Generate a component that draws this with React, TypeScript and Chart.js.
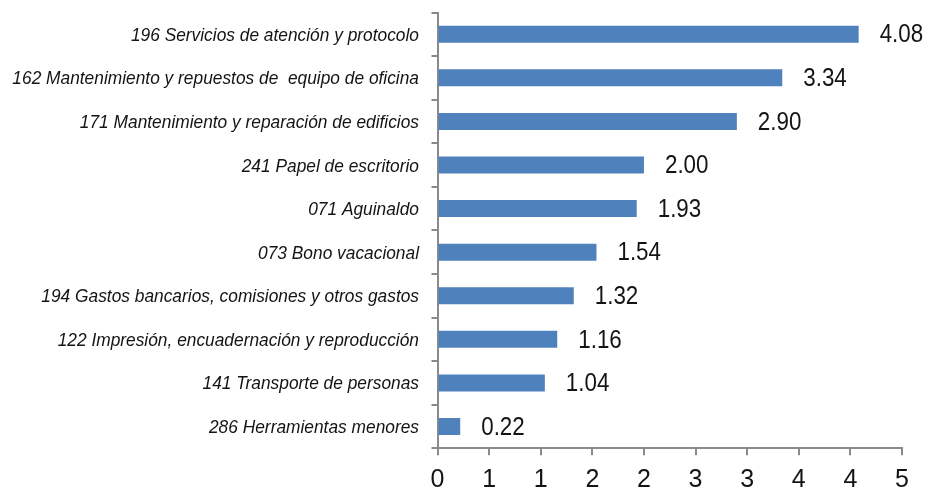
import React, { useEffect, useRef } from "react";
import { Chart, registerables } from "chart.js";

Chart.register(...registerables);

const categories = [
  "196 Servicios de atención y protocolo",
  "162 Mantenimiento y repuestos de  equipo de oficina",
  "171 Mantenimiento y reparación de edificios",
  "241 Papel de escritorio",
  "071 Aguinaldo",
  "073 Bono vacacional",
  "194 Gastos bancarios, comisiones y otros gastos",
  "122 Impresión, encuadernación y reproducción",
  "141 Transporte de personas",
  "286 Herramientas menores",
];
const values = [4.08, 3.34, 2.9, 2.0, 1.93, 1.54, 1.32, 1.16, 1.04, 0.22];
const axisMin = 0;
const axisMax = 4.5;
const axisStep = 0.5;

const FONT = '"Liberation Sans", Arial, sans-serif';
const TEXT = "#141414";

function drawScaled(ctx: any, text: string, x: number, y: number, sx: number, align: "left" | "right") {
  ctx.save();
  ctx.translate(x, y);
  ctx.scale(sx, 1);
  ctx.textAlign = align;
  ctx.fillText(text, 0, 0);
  ctx.restore();
}

const textPlugin = {
  id: "textPlugin",
  afterDraw(chart: any) {
    const ctx = chart.ctx;
    const yScale = chart.scales.y;
    const meta = chart.getDatasetMeta(0);
    ctx.save();
    ctx.fillStyle = TEXT;
    ctx.textBaseline = "middle";
    // category labels
    ctx.font = `italic 18px ${FONT}`;
    categories.forEach((c, i) => {
      const y = yScale.getPixelForValue(i);
      drawScaled(ctx, c, chart.chartArea.left - 18.5, y + 1.5, 0.963, "right");
    });
    // value labels
    ctx.font = `26px ${FONT}`;
    meta.data.forEach((bar: any, i: number) => {
      drawScaled(ctx, values[i].toFixed(2), bar.x + 21, bar.y + 1, 0.86, "left");
    });
    ctx.restore();
  },
};

export default function App() {
  const ref = useRef<HTMLCanvasElement>(null);
  useEffect(() => {
    if (!ref.current) return;
    const chart = new Chart(ref.current, {
      type: "bar",
      data: {
        labels: categories,
        datasets: [
          {
            data: values,
            backgroundColor: "#4F81BD",
            borderWidth: 0,
            barPercentage: 0.39,
            categoryPercentage: 1,
          },
        ],
      },
      options: {
        indexAxis: "y",
        animation: false,
        responsive: false,
        maintainAspectRatio: false,
        layout: { padding: { top: 12.5, right: 25, left: 0, bottom: 0 } },
        plugins: { legend: { display: false }, tooltip: { enabled: false } },
        scales: {
          x: {
            min: axisMin,
            max: axisMax,
            ticks: {
              stepSize: axisStep,
              callback: (v: any) => String(Math.round(Number(v))),
              font: { family: FONT, size: 25 },
              color: TEXT,
              padding: 10,
              maxRotation: 0,
              autoSkip: false,
            },
            grid: {
              drawOnChartArea: false,
              color: "#8a8a8a",
              tickLength: 7,
              lineWidth: 2,
            },
            border: { color: "#8a8a8a", width: 2 },
            afterFit: (s: any) => {
              s.height = 42.7;
            },
          },
          y: {
            ticks: { display: false },
            grid: {
              drawOnChartArea: false,
              offset: true,
              color: "#8a8a8a",
              tickLength: 6,
              lineWidth: 2,
            },
            border: { color: "#8a8a8a", width: 2 },
            afterFit: (s: any) => {
              s.width = 437.5;
            },
          },
        },
      },
      plugins: [textPlugin],
    });
    return () => chart.destroy();
  }, []);
  return (
    <div style={{ position: "fixed", left: 0, top: 0, width: 927, height: 491, background: "#fff" }}>
      <canvas ref={ref} width={927} height={491} style={{ width: 927, height: 491 }} />
    </div>
  );
}
